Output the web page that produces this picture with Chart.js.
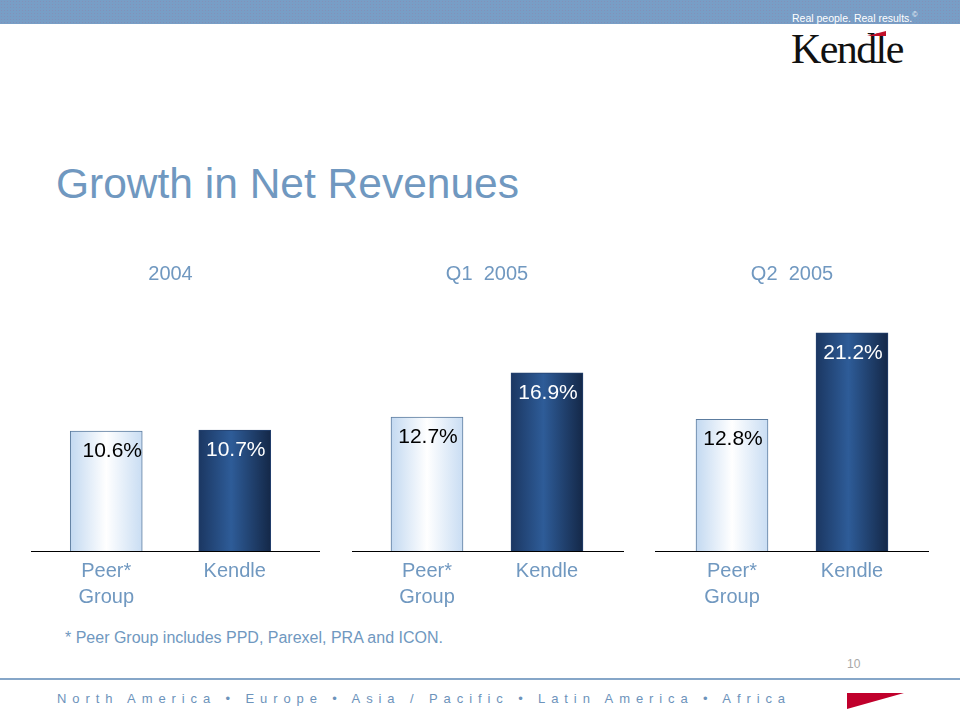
<!DOCTYPE html>
<html>
<head>
<meta charset="utf-8">
<script src="https://cdn.jsdelivr.net/npm/chart.js@4/dist/chart.umd.min.js"></script>
<style>
  html, body { margin: 0; padding: 0; background: #ffffff; }
  #slide { position: relative; width: 960px; height: 720px; overflow: hidden; background: #ffffff; font-family: "Liberation Sans", Arial, sans-serif; }
  #band { position: absolute; left: 0; top: 0; width: 960px; height: 24px; background-color: #789ec6;
          background-image: radial-gradient(rgba(150,120,160,0.35) 0.6px, transparent 0.8px);
          background-size: 3px 3px; }
  #tagline { position: absolute; left: 792px; top: 11px; font-family: "Liberation Sans Narrow", "Liberation Sans", Arial, sans-serif; font-size: 10.5px; color: #ffffff; white-space: nowrap; }
  #tagline sup { font-size: 7px; }
  #logo { position: absolute; left: 791px; top: 24px; font-family: "Liberation Serif", "Times New Roman", serif; font-size: 42px; letter-spacing: -1.6px; color: #111111; line-height: 50px; }
  #accent { position: absolute; left: 867px; top: 31px; width: 19px; height: 5px; background: #c0102a; clip-path: polygon(0 100%, 100% 0, 100% 100%); }
  #title { position: absolute; left: 56px; top: 162px; font-size: 42.5px; line-height: 44px; color: #7098c0; white-space: nowrap; }
  .panel { position: absolute; top: 262px; }
  #foot { position: absolute; left: 65px; top: 629px; font-size: 16px; line-height: 17px; color: #7098c0; white-space: nowrap; }
  #page { position: absolute; left: 847px; top: 657px; font-size: 12px; color: #a8a8a8; font-family: "Liberation Sans Narrow", "Liberation Sans", sans-serif; }
  #rule { position: absolute; left: 0; top: 678px; width: 960px; height: 2px; background: #86a6c8; }
  #regions { position: absolute; left: 57px; top: 691px; font-size: 13px; line-height: 16px; letter-spacing: 5.9px; color: #6d93bb; white-space: pre; }
  #tri { position: absolute; left: 847px; top: 693px; width: 57px; height: 16px; background: #c0002c; clip-path: polygon(0 0, 100% 0, 0 100%); }
</style>
</head>
<body>
<div id="slide">
  <div id="band"></div>
  <div id="tagline">Real people. Real results.<sup>©</sup></div>
  <div id="logo">Kendle</div>
  <div id="accent"></div>
  <div id="title">Growth in Net Revenues</div>
  <canvas id="c0" class="panel"></canvas>
  <canvas id="c1" class="panel"></canvas>
  <canvas id="c2" class="panel"></canvas>
  <div id="foot">* Peer Group includes PPD, Parexel, PRA and ICON.</div>
  <div id="page">10</div>
  <div id="rule"></div>
  <div id="regions">North America • Europe • Asia / Pacific • Latin America • Africa</div>
  <div id="tri"></div>
</div>
<script>
// ---- data ----
const panelTitles = ['2004', 'Q1  2005', 'Q2  2005'];
const categories = [['Peer*', 'Group'], 'Kendle'];
const peerGroup = [10.6, 12.7, 12.8];
const kendle = [10.7, 16.9, 21.2];

// ---- layout / style (not data) ----
const panelLeft = [31, 352, 655];
const panelWidth = [289, 272, 274];
const padLeft = [11, 15, 17];
const padRight = [21, 17, 17];
const yMax = [22.2, 23.8, 24.4];
const labelShift = [6, 1, 1];
const textBlue = '#7098c0';
const BAR_W = 72;
const CANVAS_H = 355;

function barFill(ctx, cx, idx) {
  const g = ctx.createLinearGradient(cx - BAR_W / 2, 0, cx + BAR_W / 2, 0);
  if (idx === 0) {
    g.addColorStop(0, '#c3d9f1');
    g.addColorStop(0.5, '#ffffff');
    g.addColorStop(1, '#c9ddf3');
  } else {
    g.addColorStop(0, '#1b3762');
    g.addColorStop(0.45, '#2e5c98');
    g.addColorStop(1, '#142848');
  }
  return g;
}

const baselinePlugin = {
  id: 'baseline',
  afterDatasetsDraw(chart) {
    const y = Math.round(chart.scales.y.getPixelForValue(0)) + 0.5;
    const c = chart.ctx;
    c.save();
    c.strokeStyle = '#000000';
    c.lineWidth = 1;
    c.beginPath();
    c.moveTo(0, y);
    c.lineTo(chart.width, y);
    c.stroke();
    c.restore();
  }
};

const valueLabelPlugin = {
  id: 'valueLabels',
  afterDatasetsDraw(chart, args, opts) {
    const c = chart.ctx;
    const meta = chart.getDatasetMeta(0);
    const vals = chart.data.datasets[0].data;
    c.save();
    c.font = '21px "Liberation Sans", Arial, sans-serif';
    c.textAlign = 'center';
    c.textBaseline = 'middle';
    meta.data.forEach((el, i) => {
      c.fillStyle = i === 0 ? '#000000' : '#ffffff';
      const dx = i === 0 ? opts.shift : 1;
      c.fillText(vals[i].toFixed(1) + '%', el.x + dx, el.y + 20);
    });
    c.restore();
  }
};

for (let p = 0; p < 3; p++) {
  const cv = document.getElementById('c' + p);
  cv.style.left = panelLeft[p] + 'px';
  cv.width = panelWidth[p];
  cv.height = CANVAS_H;
  cv.style.width = panelWidth[p] + 'px';
  cv.style.height = CANVAS_H + 'px';
  new Chart(cv, {
    type: 'bar',
    data: {
      labels: categories,
      datasets: [{
        data: [peerGroup[p], kendle[p]],
        barThickness: BAR_W,
        borderWidth: 1,
        borderSkipped: 'bottom',
        borderColor: ['#5c7c9f', '#23406e'],
        backgroundColor: (c) => {
          const chart = c.chart;
          const xs = chart.scales && chart.scales.x;
          if (!xs || !chart.chartArea) return c.dataIndex === 0 ? '#e4eef9' : '#26497c';
          return barFill(chart.ctx, xs.getPixelForValue(c.dataIndex), c.dataIndex);
        }
      }]
    },
    options: {
      responsive: false,
      animation: false,
      layout: { padding: { left: padLeft[p], right: padRight[p], top: 0, bottom: 0 } },
      plugins: {
        legend: { display: false },
        tooltip: { enabled: false },
        valueLabels: { shift: labelShift[p] },
        title: {
          display: true,
          text: panelTitles[p],
          color: textBlue,
          font: { family: '"Liberation Sans", Arial, sans-serif', size: 20, weight: 'normal', lineHeight: 1.2 },
          padding: { top: 0, bottom: 14 }
        }
      },
      scales: {
        x: {
          grid: { display: false, drawTicks: false },
          border: { display: false },
          ticks: {
            color: textBlue,
            padding: 7,
            font: { family: '"Liberation Sans", Arial, sans-serif', size: 20, lineHeight: 1.3 }
          }
        },
        y: {
          display: false,
          min: 0,
          max: yMax[p]
        }
      }
    },
    plugins: [baselinePlugin, valueLabelPlugin]
  });
}
</script>
</body>
</html>
